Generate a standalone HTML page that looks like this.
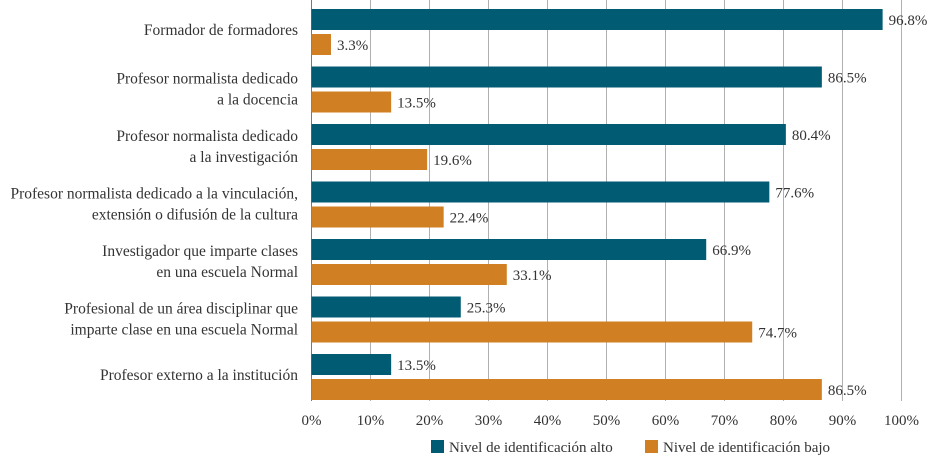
<!DOCTYPE html>
<html><head><meta charset="utf-8"><style>
body{margin:0;background:#fff;}
svg{display:block;font-family:"Liberation Serif",serif;}
</style></head><body>
<svg id="c" width="931" height="462"></svg>
<script>
const categories=[["Formador de formadores"],["Profesor normalista dedicado","a la docencia "],["Profesor normalista dedicado","a la investigación "],["Profesor normalista dedicado a la vinculación,","extensión o difusión de la cultura"],["Investigador que imparte clases","en una escuela Normal"],["Profesional de un área disciplinar que","imparte clase en una escuela Normal"],["Profesor externo a la institución"]];
const altoValues=[96.8,86.5,80.4,77.6,66.9,25.3,13.5];
const bajoValues=[3.3,13.5,19.6,22.4,33.1,74.7,86.5];
const tickValues=[0,10,20,30,40,50,60,70,80,90,100];
const NS="http://www.w3.org/2000/svg";
const svg=document.getElementById('c');
const x=v=>311.5+v*5.9;
const rowTop=i=>9+i*57.5;
function mk(tag,attrs,txt){const e=document.createElementNS(NS,tag);for(const k in attrs)e.setAttribute(k,attrs[k]);if(txt!==undefined)e.textContent=txt;svg.appendChild(e);return e;}
tickValues.forEach(t=>{
  const g=mk('line',{x1:x(t),x2:x(t),y1:0,y2:401,stroke:t===0?'#777':'#b0b0b0','stroke-width':1});
  
  
  const l=mk('text',{x:x(t),y:425,'text-anchor':'middle','font-size':15,fill:'#333'},t+'%');
  
  
});
categories.forEach((lines,i)=>{
  const top=rowTop(i);
  const a=mk('rect',{x:x(0),y:top,width:x(altoValues[i])-x(0),height:21,fill:'#005b73'});
  
  
  const b=mk('rect',{x:x(0),y:top+25,width:x(bajoValues[i])-x(0),height:21,fill:'#d07f22'});
  
  
  const la=mk('text',{x:x(altoValues[i])+6,y:top+16,'font-size':15,fill:'#333'},altoValues[i].toFixed(1)+'%');
  
  
  const lb=mk('text',{x:x(bajoValues[i])+6,y:top+41,'font-size':15,fill:'#333'},bajoValues[i].toFixed(1)+'%');
  
  
  const cy=top+23;
  lines.forEach((s,j)=>{
    const yy=lines.length===1?cy+3:cy-6+j*21;
    const t=mk('text',{x:298,y:yy,'text-anchor':'end','font-size':15.5,fill:'#333','xml:space':'preserve'},s);
    
    
  });
});
const s1=mk('rect',{x:431,y:440,width:13,height:13,fill:'#005b73'});


const t1=mk('text',{x:449,y:452,'font-size':15,fill:'#333'},'Nivel de identificación alto');


const s2=mk('rect',{x:645,y:440,width:13,height:13,fill:'#d07f22'});


const t2=mk('text',{x:663,y:452,'font-size':15,fill:'#333'},'Nivel de identificación bajo');


</script>
</body></html>
